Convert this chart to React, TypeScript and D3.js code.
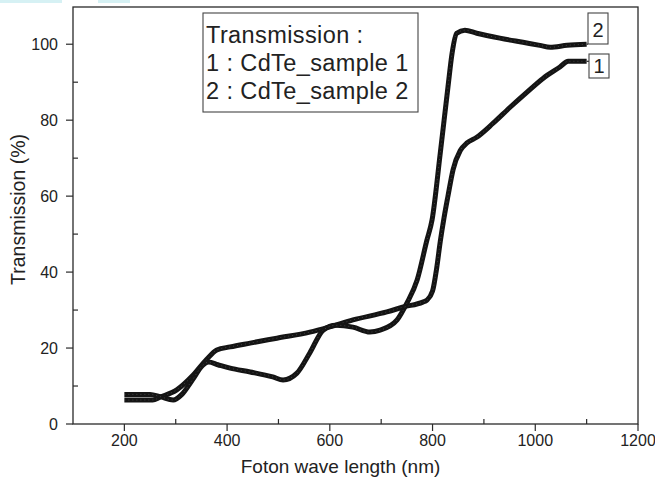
import { useMemo } from 'react'
import * as d3 from 'd3'

// wavelength (nm) / transmission (%)
const sample1Wave = [200, 255, 270, 302, 334, 360, 380, 406, 445, 497, 561, 600, 645, 711, 743, 781, 789, 800, 808, 815, 822, 830, 840, 854, 867, 886, 918, 951, 984, 1015, 1048, 1064, 1100]
const sample1Trans = [6.3, 6.3, 7.1, 9, 12.9, 17, 19.5, 20.3, 21.3, 22.6, 24.2, 25.6, 27.4, 29.5, 30.8, 32.1, 32.6, 35, 41, 48, 54, 60, 67, 72, 74, 75.5, 79.2, 83.4, 87.4, 91, 94, 95.5, 95.5]

const sample2Wave = [200, 250, 270, 295, 312, 332, 353, 364, 382, 406, 445, 489, 509, 536, 561, 587, 612, 645, 678, 698, 731, 750, 770, 789, 799, 815, 830, 838, 847, 863, 886, 931, 976, 1009, 1029, 1062, 1100]
const sample2Trans = [7.8, 7.8, 7.2, 6.3, 7.8, 11.5, 15.5, 16.3, 15.6, 14.7, 13.7, 12.4, 11.6, 13.4, 18.7, 24.7, 26, 25.5, 24.2, 24.7, 27.4, 31.8, 37.9, 48.4, 53.7, 71.3, 88.7, 97.6, 102.9, 103.7, 102.9, 101.6, 100.5, 99.7, 99.2, 99.7, 100]

const xMajor = [200, 400, 600, 800, 1000, 1200]
const xMinor = [300, 500, 700, 900, 1100]
const yMajor = [0, 20, 40, 60, 80, 100]
const yMinor = [10, 30, 50, 70, 90]

const legendLines = ['Transmission :', '1 : CdTe_sample 1', '2 : CdTe_sample 2']

const W = 655
const H = 484
const margin = { left: 73, right: 17, top: 7, bottom: 60 }
const font = 'Arial, "Liberation Sans", Helvetica, sans-serif'

export default function App() {
  const x = useMemo(() => d3.scaleLinear().domain([100, 1200]).range([margin.left, W - margin.right]), [])
  const y = useMemo(() => d3.scaleLinear().domain([0, 109.8]).range([H - margin.bottom, margin.top]), [])

  const line = d3.line<[number, number]>()
    .x(d => x(d[0]))
    .y(d => y(d[1]))
    .curve(d3.curveMonotoneX)

  const path1 = line(sample1Wave.map((w, i) => [w, sample1Trans[i]])) || ''
  const path2 = line(sample2Wave.map((w, i) => [w, sample2Trans[i]])) || ''

  const x0 = x(100), x1 = x(1200)
  const y0 = y(0), y1 = y(109.8)

  const end1: [number, number] = [x(1100), y(95.5)]
  const end2: [number, number] = [x(1100), y(100)]

  return (
    <svg width={W} height={H} style={{ position: 'absolute', left: 0, top: 0, background: '#fff' }} fontFamily={font}>
      {/* page scraps at the top edge */}
      <rect x={0} y={0} width={62} height={3} fill="#d6f1f4" />
      <rect x={98} y={0} width={32} height={3} fill="#d6f1f4" />

      {/* frame */}
      <rect x={x0} y={y1} width={x1 - x0} height={y0 - y1} fill="none" stroke="#2a2a2a" strokeWidth={1.3} />

      {/* x ticks */}
      {xMajor.map(v => (
        <g key={'xm' + v}>
          <line x1={x(v)} x2={x(v)} y1={y0} y2={y0 + 7} stroke="#2a2a2a" strokeWidth={1.2} />
          <text x={x(v)} y={y0 + 22} textAnchor="middle" fontSize={16} fill="#222">{v}</text>
        </g>
      ))}
      {xMinor.map(v => (
        <line key={'xn' + v} x1={x(v)} x2={x(v)} y1={y0} y2={y0 - 5} stroke="#2a2a2a" strokeWidth={1.2} />
      ))}

      {/* y ticks */}
      {yMajor.map(v => (
        <g key={'ym' + v}>
          <line x1={x0 - 7} x2={x0} y1={y(v)} y2={y(v)} stroke="#2a2a2a" strokeWidth={1.2} />
          <text x={x0 - 15} y={y(v)} dy="0.36em" textAnchor="end" fontSize={16} fill="#222">{v}</text>
        </g>
      ))}
      {yMinor.map(v => (
        <line key={'yn' + v} x1={x0} x2={x0 + 5} y1={y(v)} y2={y(v)} stroke="#2a2a2a" strokeWidth={1.2} />
      ))}

      {/* axis titles */}
      <text x={(x0 + x1) / 2 - 15} y={473} textAnchor="middle" fontSize={19} fill="#222">Foton wave length (nm)</text>
      <text transform={`translate(25,${(y0 + y1) / 2 - 6}) rotate(-90)`} textAnchor="middle" fontSize={19.5} fill="#222">Transmission (%)</text>

      {/* curves */}
      {[path1, path2].map((p, i) => (
        <g key={'c' + i}>
          <path d={p} fill="none" stroke="#141414" strokeWidth={5} strokeLinejoin="round" />
          <path d={p} fill="none" stroke="#777" strokeOpacity={0.5} strokeWidth={0.9} strokeDasharray="1 3" />
        </g>
      ))}

      {/* end labels */}
      <line x1={end2[0]} x2={588} y1={end2[1]} y2={end2[1]} stroke="#222" strokeWidth={1.2} />
      <rect x={588} y={13} width={20} height={31} fill="#fff" stroke="#444" strokeWidth={1.1} />
      <text x={598} y={37} textAnchor="middle" fontSize={20} fill="#222">2</text>

      <line x1={end1[0]} x2={589} y1={end1[1]} y2={end1[1]} stroke="#222" strokeWidth={1.2} />
      <rect x={589} y={54} width={20} height={24} fill="#fff" stroke="#444" strokeWidth={1.1} />
      <text x={599} y={73} textAnchor="middle" fontSize={20} fill="#222">1</text>

      {/* legend */}
      <rect x={203} y={13} width={215} height={99} fill="#fff" stroke="#444" strokeWidth={1.1} />
      {legendLines.map((t, i) => (
        <text key={t} x={206} y={43 + i * 28} fontSize={23.5} letterSpacing={0.4} fill="#222">{t}</text>
      ))}
    </svg>
  )
}
